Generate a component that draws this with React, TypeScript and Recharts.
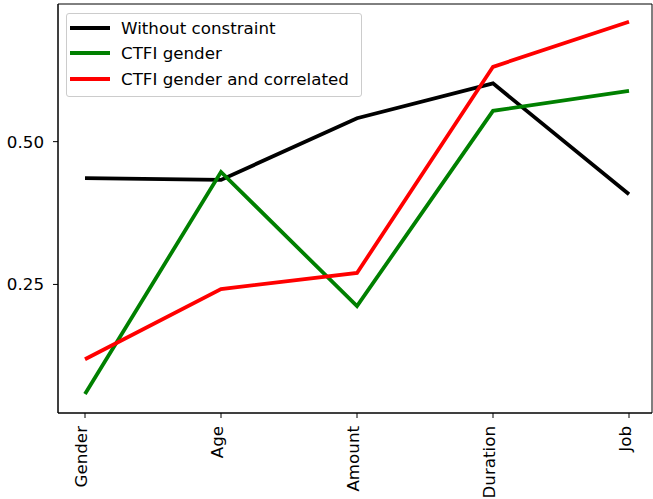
import React from "react";
import { LineChart, Line, XAxis, YAxis, CartesianGrid } from "recharts";

const categories = ["Gender", "Age", "Amount", "Duration", "Job"];
const withoutConstraint = [0.436, 0.433, 0.541, 0.602, 0.408];
const ctfiGender = [0.058, 0.447, 0.212, 0.554, 0.589];
const ctfiGenderCorrelated = [0.119, 0.242, 0.27, 0.631, 0.71];
const yTicks = [0.25, 0.5];

const series = [
  { key: "a", name: "Without constraint", color: "#000000", values: withoutConstraint },
  { key: "b", name: "CTFI gender", color: "#008000", values: ctfiGender },
  { key: "c", name: "CTFI gender and correlated", color: "#ff0000", values: ctfiGenderCorrelated },
];

const data = categories.map((c, i) => {
  const row: any = { name: c };
  series.forEach((s) => (row[s.key] = s.values[i]));
  return row;
});

const FONT = "DejaVu Sans";
const FS = 16.7;

const XTick = (props: any) => {
  const { x, y, payload } = props;
  return (
    <g transform={`translate(${x},${y})`}>
      <text
        transform="rotate(-90)"
        x={-6}
        y={2}
        textAnchor="end"
        fill="#000"
        fontSize={FS}
        fontFamily={FONT}
      >
        {payload.value}
      </text>
    </g>
  );
};

export default function App() {
  return (
    <div style={{ position: "absolute", left: 0, top: 0, width: 653, height: 499, background: "#fff" }}>
      <LineChart
        width={653}
        height={499}
        data={data}
        margin={{ top: 4, right: 1, left: 0, bottom: 0 }}
      >
        <CartesianGrid
          stroke="#000"
          strokeWidth={1}
          horizontalCoordinatesGenerator={({ offset }: any) => [offset.top, offset.top + offset.height]}
          verticalCoordinatesGenerator={({ offset }: any) => [offset.left, offset.left + offset.width]}
        />
        <XAxis
          dataKey="name"
          height={86}
          padding={{ left: 27, right: 23 }}
          tick={<XTick />}
          tickSize={5}
          tickMargin={2}
          interval={0}
          axisLine={{ stroke: "#000", strokeWidth: 1 }}
          tickLine={{ stroke: "#000" }}
        />
        <YAxis
          width={58}
          domain={[0.0249, 0.741]}
          ticks={yTicks}
          allowDataOverflow
          tickFormatter={(v: number) => v.toFixed(2)}
          tickSize={5}
          tickMargin={9}
          tick={{ fill: "#000", fontSize: FS, fontFamily: FONT }}
          axisLine={{ stroke: "#000", strokeWidth: 1 }}
          tickLine={{ stroke: "#000" }}
        />
        {series.map((s) => (
          <Line
            key={s.key}
            type="linear"
            dataKey={s.key}
            name={s.name}
            stroke={s.color}
            strokeWidth={3.8}
            dot={false}
            isAnimationActive={false}
          />
        ))}
      </LineChart>
      <div
        style={{
          position: "absolute",
          left: 66,
          top: 13,
          border: "1px solid #cccccc",
          borderRadius: 3,
          background: "rgba(255,255,255,0.8)",
          padding: "1px 12px 4px 3px",
          fontFamily: FONT,
          fontSize: FS,
          color: "#000",
          whiteSpace: "nowrap",
        }}
      >
        {series.map((s) => (
          <div key={s.key} style={{ display: "flex", alignItems: "center", height: 25.5 }}>
            <svg width={40} height={4} style={{ marginRight: 11, flex: "none" }}>
              <line x1={0} y1={2} x2={40} y2={2} stroke={s.color} strokeWidth={4} />
            </svg>
            <span>{s.name}</span>
          </div>
        ))}
      </div>
    </div>
  );
}
